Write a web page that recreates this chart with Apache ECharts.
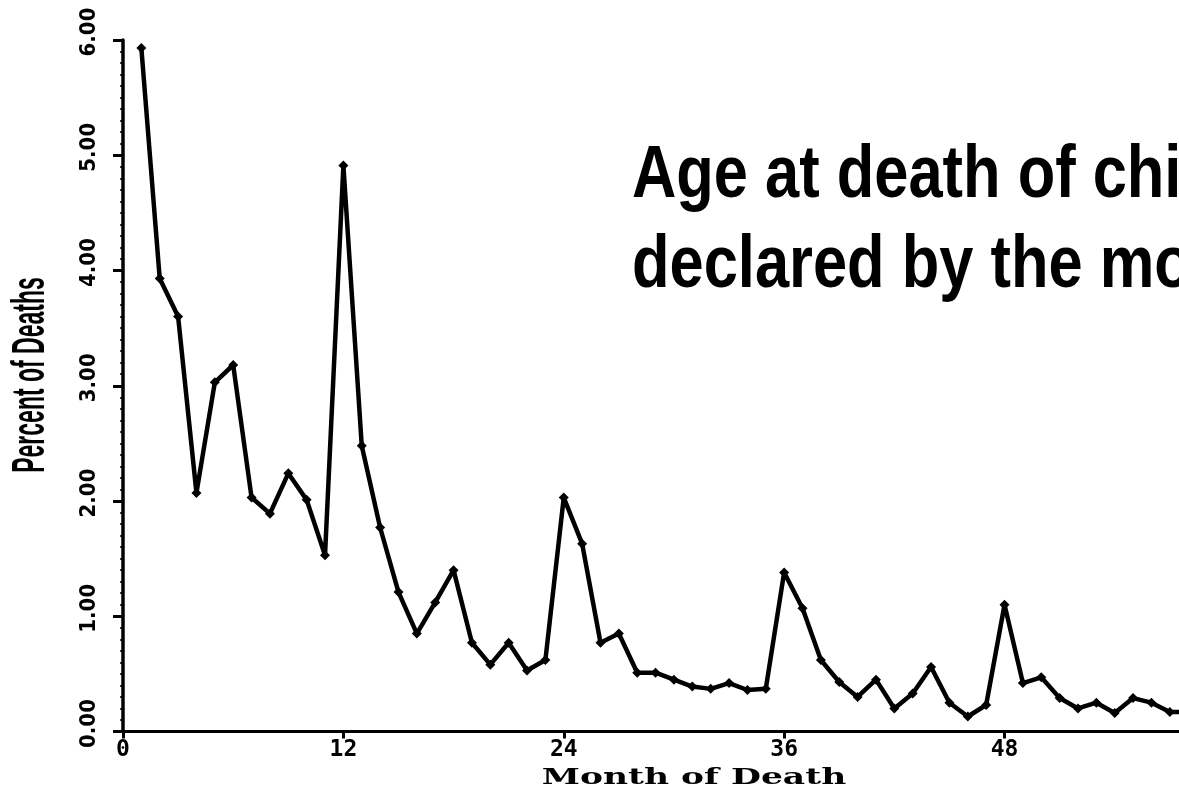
<!DOCTYPE html>
<html>
<head>
<meta charset="utf-8">
<script src="https://cdn.jsdelivr.net/npm/echarts@6/dist/echarts.min.js"></script>
<style>
  html, body { margin: 0; padding: 0; background: #fff; }
  #chart { width: 1179px; height: 795px; }
</style>
</head>
<body>
<div id="chart"></div>
<script>
// month of death (1..58) and percent of deaths
const months = [1, 2, 3, 4, 5, 6, 7, 8, 9, 10, 11, 12, 13, 14, 15, 16, 17, 18, 19, 20,
  21, 22, 23, 24, 25, 26, 27, 28, 29, 30, 31, 32, 33, 34, 35, 36, 37, 38, 39, 40,
  41, 42, 43, 44, 45, 46, 47, 48, 49, 50, 51, 52, 53, 54, 55, 56, 57, 58];
const percent = [5.93, 3.93, 3.60, 2.07, 3.03, 3.18, 2.03, 1.89, 2.24, 2.01, 1.53, 4.91, 2.48, 1.77, 1.21, 0.85, 1.12, 1.40, 0.77, 0.58,
  0.77, 0.53, 0.62, 2.03, 1.63, 0.77, 0.85, 0.51, 0.51, 0.45, 0.39, 0.37, 0.42, 0.36, 0.37, 1.38, 1.07, 0.62, 0.43, 0.30,
  0.45, 0.20, 0.33, 0.56, 0.25, 0.13, 0.23, 1.10, 0.42, 0.47, 0.29, 0.20, 0.25, 0.16, 0.29, 0.25, 0.17, 0.17];
const titleLines = ['Age at death of children as', 'declared by the mother'];
const xTitle = 'Month of Death';
const yTitle = 'Percent of Deaths';

const chart = echarts.init(document.getElementById('chart'), null, { renderer: 'canvas' });

const ink = '#000';
chart.setOption({
  backgroundColor: '#fff',
  animation: false,
  grid: { left: 123, right: 0, top: 40, bottom: 63.5 },
  xAxis: {
    type: 'value', min: 0, max: 57.5, interval: 12,
    axisLine: { lineStyle: { color: ink, width: 3 } },
    axisTick: { length: 7, lineStyle: { color: ink, width: 3 } },
    axisLabel: {
      showMaxLabel: false, margin: 7, color: ink,
      fontFamily: 'DejaVu Sans Mono', fontWeight: 'bold', fontSize: 23
    },
    splitLine: { show: false }
  },
  yAxis: {
    type: 'value', min: 0, max: 6, interval: 1,
    axisLine: { show: true, lineStyle: { color: ink, width: 3.5 } },
    axisTick: { show: true, length: 10, lineStyle: { color: ink, width: 3 } },
    minorTick: { show: true, splitNumber: 10, length: 3, lineStyle: { color: ink, width: 1.5 } },
    axisLabel: {
      rotate: 90, margin: 23, color: ink, padding: [0, 0, 0, 16],
      fontFamily: "'Liberation Sans Narrow', 'DejaVu Sans Condensed', 'Liberation Sans', sans-serif",
      fontWeight: 'bold', fontSize: 22,
      formatter: v => v.toFixed(2)
    },
    splitLine: { show: false }
  },
  series: [{
    type: 'line',
    data: months.map((m, i) => [m, percent[i]]),
    symbol: 'diamond', symbolSize: 10, showAllSymbol: true,
    itemStyle: { color: ink },
    lineStyle: { color: ink, width: 4.5 },
    clip: true
  }],
  graphic: [
    {
      type: 'text', x: 632, y: 177, scaleX: 0.83,
      style: { text: titleLines[0], fill: ink, font: 'bold 74px "Liberation Sans", Arial, sans-serif', textVerticalAlign: 'middle' }
    },
    {
      type: 'text', x: 632, y: 267, scaleX: 0.83,
      style: { text: titleLines[1], fill: ink, font: 'bold 74px "Liberation Sans", Arial, sans-serif', textVerticalAlign: 'middle' }
    },
    {
      type: 'text', x: 694, y: 778, scaleX: 1.5,
      style: { text: xTitle, fill: ink, font: 'bold 23px "DejaVu Serif", serif', textAlign: 'center', textVerticalAlign: 'middle' }
    },
    {
      type: 'text', x: 31, y: 375, rotation: Math.PI / 2, scaleX: 0.5,
      style: { text: yTitle, fill: ink, font: 'bold 46px "Liberation Sans", Arial, sans-serif', textAlign: 'center', textVerticalAlign: 'middle' }
    }
  ]
});
</script>
</body>
</html>
